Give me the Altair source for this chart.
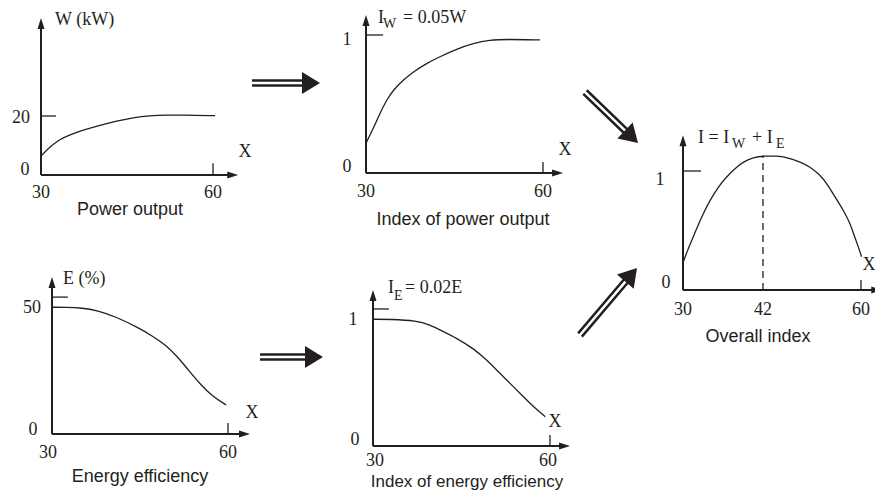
import altair as alt
import pandas as pd

# ---------------- data ----------------
power_x = [30, 31.57, 33.31, 34.48, 37.38, 40.29, 43.2, 46.1, 49.0, 51.9, 54.8, 60.35]
power_w = [6.44, 9.59, 12.1, 13.2, 15.25, 16.85, 18.3, 19.5, 20.1, 20.3, 20.3, 20.1]

ipow_x = [30, 31.24, 32.37, 33.5, 34.63, 36.32, 38.02, 40.29, 42.54, 45.37, 48.19, 51.0, 53.85, 59.49]
ipow_v = [0.215, 0.324, 0.433, 0.529, 0.601, 0.674, 0.734, 0.795, 0.843, 0.897, 0.940, 0.964, 0.969, 0.964]

eff_x = [30, 32.44, 35.2, 37.5, 40.9, 44.9, 47.1, 49.4, 51.1, 52.8, 55.1, 57.4, 59.7]
eff_e = [49.9, 49.9, 49.6, 48.8, 46.2, 41.6, 38.6, 35.0, 31.1, 26.5, 20.0, 14.7, 11.4]

ieff_x = [30, 32.9, 37.4, 39.7, 41.4, 44.2, 47.0, 49.3, 51.5, 53.8, 55.5, 57.2, 59.2]
ieff_v = [0.998, 0.998, 0.987, 0.953, 0.913, 0.848, 0.769, 0.677, 0.573, 0.467, 0.388, 0.309, 0.231]

tot_x = [30.05, 30.8, 31.55, 32.8, 34.05, 35.3, 36.55, 37.8, 39.05, 40.55, 42.18, 44.5,
         46.35, 48.8, 50.6, 52.5, 53.7, 55.2, 56.75, 58.0, 58.6, 59.5, 60.1]
tot_v = [0.238, 0.350, 0.448, 0.616, 0.756, 0.868, 0.952, 1.022, 1.078, 1.115, 1.126, 1.126,
         1.115, 1.078, 1.036, 0.966, 0.896, 0.784, 0.672, 0.560, 0.476, 0.364, 0.280]
optimum_x = 42
optimum_v = 1.13

x_ticks = [30, 60]
x_ticks_overall = [30, 42, 60]

# ---------------- styles / layout ----------------
INK = "#231f20"
SERIF = "Liberation Serif"
SANS = "Liberation Sans"
M = 8  # page margin
FS = 18
HEAD_AX = "M0,0L-2,-0.64L-2,0.64Z"
HEAD_BIG = "M0,0L-1.8,-1.1L-1.8,1.1Z"
ONE = pd.DataFrame({"k": [0]})


def free_text(t, x, y, font=SERIF, size=FS, align="left", baseline="alphabetic"):
    return alt.Chart(pd.DataFrame({"t": [t]})).mark_text(
        font=font, fontSize=size, color=INK, align=align, baseline=baseline
    ).encode(x=alt.value(x - M), y=alt.value(y - M), text="t:N")


def panel(xs_, ys_, p):
    xsc = alt.Scale(domain=p["xdom"], range=[v - M for v in p["xpx"]], nice=False, zero=False)
    ysc = alt.Scale(domain=p["ydom"], range=[v - M for v in p["ypx"]], nice=False, zero=False)

    def ex(f):
        return alt.X(f, type="quantitative", scale=xsc, axis=None)

    def ey(f):
        return alt.Y(f, type="quantitative", scale=ysc, axis=None)

    layers = []
    layers.append(
        alt.Chart(pd.DataFrame({"x": xs_, "y": ys_}))
        .mark_line(color=INK, strokeWidth=1.3, interpolate="basis")
        .encode(x=ex("x"), y=ey("y"))
    )
    axes_df = pd.DataFrame({"x": [30, 30], "y": [0, 0],
                            "x2": [p["xend"] - 0.8, 30], "y2": [0, p["ytop"] * 0.97]})
    layers.append(
        alt.Chart(axes_df).mark_rule(color=INK, strokeWidth=2)
        .encode(x=ex("x"), y=ey("y"), x2="x2", y2="y2")
    )
    heads_df = pd.DataFrame({"x": [p["xend"], 30], "y": [0, p["ytop"]], "a": [0, 270]})
    layers.append(
        alt.Chart(heads_df).mark_point(shape=HEAD_AX, filled=True, size=121, color=INK,
                                       opacity=1, strokeWidth=0)
        .encode(x=ex("x"), y=ey("y"), angle=alt.Angle("a:Q", scale=None))
    )
    ticks_df = pd.DataFrame({"x": [60, 30], "y": [0, p["ytick"]],
                             "x2": [60, p["ytickend"]], "y2": [p["xticktop"], p["ytick"]]})
    layers.append(
        alt.Chart(ticks_df).mark_rule(color=INK, strokeWidth=1.3)
        .encode(x=ex("x"), y=ey("y"), x2="x2", y2="y2")
    )
    if p.get("dash") is not None:
        dx_, dtop = p["dash"]
        layers.append(
            alt.Chart(pd.DataFrame({"x": [dx_], "y": [0], "y2": [dtop]}))
            .mark_rule(color=INK, strokeWidth=1.3, strokeDash=[7, 5])
            .encode(x=ex("x"), y=ey("y"), y2="y2")
        )
    for t, x, y, ddx, ddy in p["labels"]:
        layers.append(
            alt.Chart(pd.DataFrame({"x": [x], "y": [y], "t": [t]}))
            .mark_text(font=SERIF, fontSize=FS, color=INK, align="center",
                       baseline="middle", dx=ddx, dy=ddy)
            .encode(x=ex("x"), y=ey("y"), text="t:N")
        )
    return alt.layer(*layers)


def big_arrow(x0, y0, x1, y1):
    import math
    L = math.hypot(x1 - x0, y1 - y0)
    ux, uy = (x1 - x0) / L, (y1 - y0) / L
    ang = math.degrees(math.atan2(y1 - y0, x1 - x0)) % 360
    sx, sy = x1 - ux * 12, y1 - uy * 12
    base = alt.Chart(ONE)
    black = base.mark_rule(color=INK, strokeWidth=7.5, strokeCap="butt").encode(
        x=alt.value(x0 - M), y=alt.value(y0 - M), x2=alt.value(sx - M), y2=alt.value(sy - M))
    white = base.mark_rule(color="white", strokeWidth=2.5, strokeCap="butt").encode(
        x=alt.value(x0 - M - ux), y=alt.value(y0 - M - uy), x2=alt.value(sx - M), y2=alt.value(sy - M))
    head = base.mark_point(shape=HEAD_BIG, filled=True, size=400, color=INK, opacity=1,
                           strokeWidth=0).encode(
        x=alt.value(x1 - M), y=alt.value(y1 - M), angle=alt.value(ang))
    return [black, white, head]


# panel definitions (layout in page pixels)
P1 = dict(xdom=[30, 60], xpx=[41, 213], ydom=[0, 20], ypx=[175, 116],
          xend=64.4, ytop=53.2, ytick=20, ytickend=32.6, xticktop=4.0,
          labels=[("0", 30, 0, -16, -5), ("20", 30, 20, -20, 2)]
          + [(str(v), v, 0, 0, 18) for v in x_ticks])
P2 = dict(xdom=[30, 60], xpx=[366, 543], ydom=[0, 1], ypx=[173, 35],
          xend=63.4, ytop=1.145, ytick=1, ytickend=32.9, xticktop=0.08,
          labels=[("0", 30, 0, -19, -6), ("1", 30, 1, -19, 5)]
          + [(str(v), v, 0, 0, 19) for v in x_ticks])
P3 = dict(xdom=[30, 42, 60], xpx=[683, 763, 861], ydom=[0, 1], ypx=[290, 171],
          xend=63.9, ytop=1.30, ytick=1, ytickend=32.7, xticktop=0.084,
          dash=(optimum_x, optimum_v),
          labels=[("0", 30, 0, -17, -7), ("1", 30, 1, -23, 9)]
          + [(str(v), v, 0, 0, 20) for v in x_ticks_overall])
P4 = dict(xdom=[30, 60], xpx=[52, 228], ydom=[0, 50], ypx=[434, 307],
          xend=63.75, ytop=61.8, ytick=53.9, ytickend=32.7, xticktop=4.3,
          labels=[("0", 30, 0, -19, -4), ("50", 30, 50, -20, 1),
                  ("30", 30, 0, -4, 19), ("60", 60, 0, 0, 19)])
P5 = dict(xdom=[30, 60], xpx=[373, 550], ydom=[0, 1], ypx=[446, 319],
          xend=63.4, ytop=1.228, ytick=1.079, ytickend=32.7, xticktop=0.087,
          labels=[("0", 30, 0, -18, -6), ("1", 30, 1, -20, 1),
                  ("30", 30, 0, 2, 15), ("60", 60, 0, -2, 15)])

panels = [
    panel(power_x, power_w, P1),
    panel(ipow_x, ipow_v, P2),
    panel(tot_x, tot_v, P3),
    panel(eff_x, eff_e, P4),
    panel(ieff_x, ieff_v, P5),
]

deco = []
# connector arrows
for a in [(252, 83, 320, 83), (260, 357, 323, 357), (585, 92, 638, 143), (580, 335, 637, 268)]:
    deco += big_arrow(*a)

# panel titles
deco += [
    free_text("W (kW)", 55, 25),
    free_text("I", 378, 23), free_text("W", 383, 28, size=14), free_text("= 0.05W", 403, 23),
    free_text("I = I", 698, 143), free_text("W", 732, 148, size=14),
    free_text("+ I", 752, 143), free_text("E", 776, 148, size=14),
    free_text("E (%)", 63, 284),
    free_text("I", 388, 293), free_text("E", 394, 300, size=14), free_text("= 0.02E", 405, 293),
]
# X axis letters
for x, y in [(245, 152), (565, 150), (869, 265), (252, 413), (555, 422)]:
    deco.append(free_text("X", x, y, align="center", baseline="middle"))
# captions
for t, x, y, s in [("Power output", 130, 210, 18), ("Index of power output", 463, 220, 18),
                   ("Overall index", 758, 337, 18), ("Energy efficiency", 140, 477, 18),
                   ("Index of energy efficiency", 467, 482, 17)]:
    deco.append(free_text(t, x, y, font=SANS, size=s, align="center", baseline="middle"))

chart = (
    alt.layer(*panels, *deco)
    .resolve_scale(x="independent", y="independent")
    .properties(width=867, height=483, autosize=alt.AutoSizeParams(type="none"),
                padding=0, background="white")
    .configure_view(stroke=None)
)

chart.save("out.html", embed_options={"renderer": "svg", "actions": False})
